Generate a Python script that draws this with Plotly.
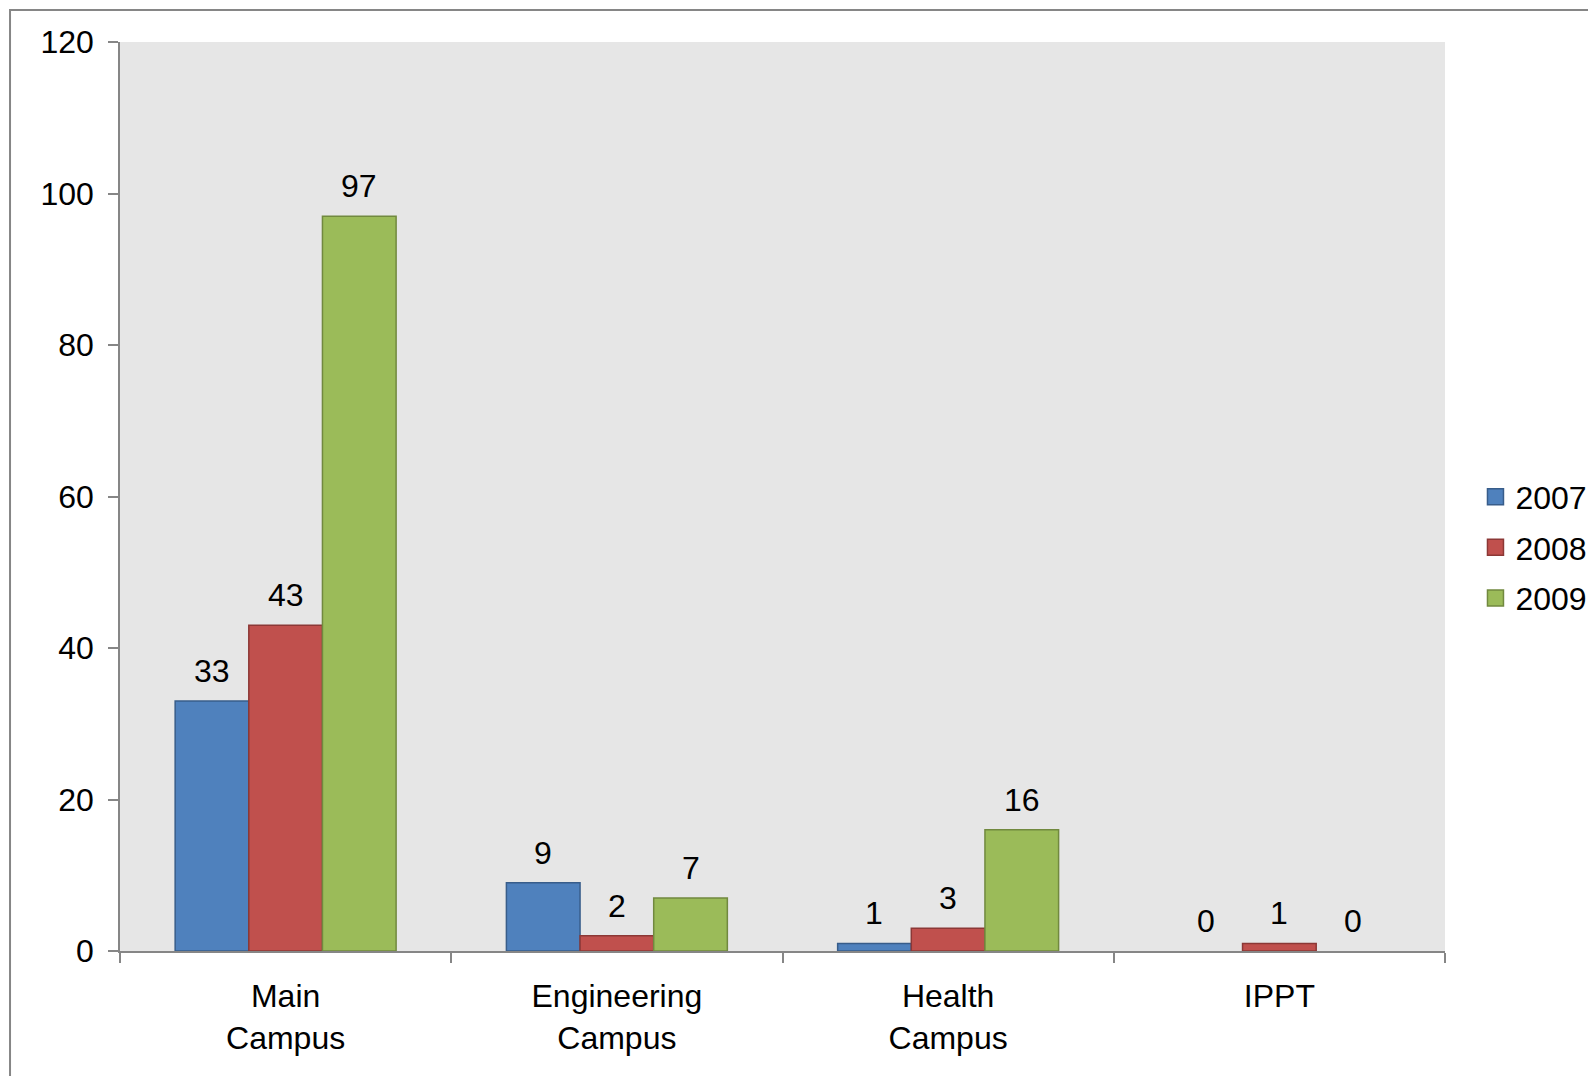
import plotly.graph_objects as go

categories = ["Main<br>Campus", "Engineering<br>Campus", "Health<br>Campus", "IPPT"]
series_names = ["2007", "2008", "2009"]
values_2007 = [33, 9, 1, 0]
values_2008 = [43, 2, 3, 1]
values_2009 = [97, 7, 16, 0]

fills = ["#4F81BD", "#C0504D", "#9BBB59"]
edges = ["#385D8A", "#8C3836", "#71893F"]
FONT = "Liberation Sans, Arial, sans-serif"
FS = 32

W, H = 1596, 1076
ML, MT, PW, PH = 112, 34, 1325, 909
BARGAP = 0.333
n_series = 3
bar_px = PW / len(categories) * (1 - BARGAP) / n_series

fig = go.Figure()
annotations = []
all_vals = [values_2007, values_2008, values_2009]
for i, (name, vals, fc, ec) in enumerate(zip(series_names, all_vals, fills, edges)):
    fig.add_trace(go.Bar(
        x=categories, y=vals, name=name, showlegend=False,
        marker=dict(color=fc, line=dict(color=ec, width=[0 if v == 0 else 1.5 for v in vals])),
        hoverinfo="x+y+name",
    ))
    # legend entry
    fig.add_trace(go.Scatter(
        x=[None], y=[None], name=name, mode="markers", legendgroup=name,
        marker=dict(symbol="square", size=16, color=fc, line=dict(color=ec, width=1.5)),
    ))
    for c, v in zip(categories, vals):
        annotations.append(dict(
            x=c, y=v, xref="x", yref="y", text=str(v), showarrow=False,
            xshift=(i - 1) * bar_px, yshift=30, yanchor="middle",
            font=dict(family=FONT, size=FS, color="black"),
        ))

fig.update_layout(
    width=W, height=H,
    margin=dict(l=ML, r=W - ML - PW, t=MT, b=H - MT - PH),
    paper_bgcolor="white", plot_bgcolor="#E6E6E6",
    barmode="group", bargap=BARGAP, bargroupgap=0,
    font=dict(family=FONT, size=FS, color="black"),
    showlegend=True,
    legend=dict(x=1.023, y=0.444, xanchor="left", yanchor="middle",
                font=dict(family=FONT, size=FS, color="black"),
                tracegroupgap=6, itemwidth=30, bgcolor="rgba(0,0,0,0)"),
    annotations=annotations,
    shapes=[dict(type="rect", xref="paper", yref="paper",
                 x0=-0.083, x1=1.2, y0=-0.2, y1=1.0352,
                 line=dict(color="#868686", width=2), layer="below")],
)
fig.update_xaxes(
    showline=True, linecolor="#868686", linewidth=1.5,
    ticks="outside", ticklen=10, tickcolor="#868686", tickwidth=1.5,
    tickson="boundaries", showgrid=False,
    tickfont=dict(family=FONT, size=FS, color="black"),
    ticklabelstandoff=16,
)
fig.update_yaxes(
    range=[0, 120], dtick=20, tick0=0,
    showline=True, linecolor="#868686", linewidth=1.5,
    ticks="outside", ticklen=10, tickcolor="#868686", tickwidth=1.5,
    showgrid=False, zeroline=False,
    tickfont=dict(family=FONT, size=FS, color="black"),
    ticklabelstandoff=8,
)

fig.write_html("out.html")
